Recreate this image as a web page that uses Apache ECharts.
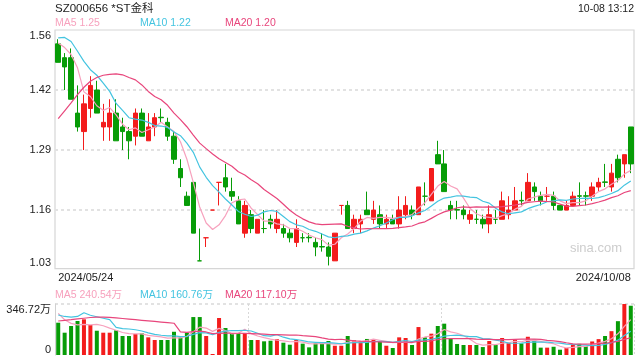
<!DOCTYPE html>
<html><head><meta charset="utf-8">
<script src="https://cdn.jsdelivr.net/npm/echarts@6/dist/echarts.min.js"></script>
<style>html,body{margin:0;padding:0;background:#fff}#c{width:640px;height:360px}</style>
</head><body><div id="c"></div><script>
const FONT = 'Arial, "Liberation Sans", "Noto Sans CJK SC", sans-serif';
const RED = '#f31c1c', GREEN = '#079c07';
const C_MA5 = '#f7a1bd', C_MA10 = '#44c4e0', C_MA20 = '#e8467c';

const dates = ['2024/05/24','2024/05/27','2024/05/28','2024/05/29','2024/05/30','2024/05/31',
'2024/06/03','2024/06/04','2024/06/05','2024/06/06','2024/06/07','2024/06/11','2024/06/12','2024/06/13','2024/06/14',
'2024/06/17','2024/06/18','2024/06/19','2024/06/20','2024/06/21','2024/06/24','2024/06/25','2024/06/26','2024/06/27','2024/06/28',
'2024/07/01','2024/07/02','2024/07/03','2024/07/04','2024/07/05','2024/07/08','2024/07/09','2024/07/10','2024/07/11','2024/07/12',
'2024/07/15','2024/07/16','2024/07/17','2024/07/18','2024/07/19','2024/07/22','2024/07/23','2024/07/24','2024/07/25','2024/07/26',
'2024/07/29','2024/07/30','2024/07/31','2024/08/01','2024/08/02','2024/08/05','2024/08/06','2024/08/07','2024/08/08','2024/08/09',
'2024/08/12','2024/08/13','2024/08/14','2024/08/15','2024/08/16','2024/08/19','2024/08/20','2024/08/21','2024/08/22','2024/08/23',
'2024/08/26','2024/08/27','2024/08/28','2024/08/29','2024/08/30','2024/09/02','2024/09/03','2024/09/04','2024/09/05','2024/09/06',
'2024/09/09','2024/09/10','2024/09/11','2024/09/12','2024/09/13','2024/09/18','2024/09/19','2024/09/20',
'2024/09/23','2024/09/24','2024/09/25','2024/09/26','2024/09/27','2024/09/30','2024/10/08'];

const open  = [1.52,1.49,1.49,1.37,1.33,1.38,1.42,1.34,1.34,1.37, 1.34,1.33,1.32,1.37,1.31,1.34,1.361,1.35,1.32,1.25,
               1.19,1.22,1.05,1.10,1.16,1.22,1.23,1.20,1.18,1.11, 1.15,1.11,1.12,1.14,1.12,1.12,1.11,1.09,1.10,1.101,
               1.09,1.081,1.08,1.05,1.17,1.17,1.12,1.13,1.16,1.14, 1.15,1.13,1.14,1.13,1.15,1.16,1.15,1.19,1.18,1.28,
               1.26,1.17,1.161,1.16,1.14,1.14,1.14,1.13,1.14,1.14, 1.15,1.16,1.181,1.18,1.21,1.19,1.19,1.19,1.17,1.16,
               1.17,1.191,1.191,1.19,1.21,1.221,1.21,1.27,1.26,1.34];
const close = [1.48,1.47,1.40,1.34,1.39,1.43,1.37,1.35,1.37,1.31, 1.33,1.31,1.37,1.32,1.34,1.36,1.36,1.32,1.27,1.23,
               1.17,1.11,1.05,1.10,1.16,1.22,1.21,1.19,1.13,1.17, 1.12,1.14,1.12,1.13,1.14,1.11,1.10,1.12,1.10,1.10,
               1.08,1.08,1.06,1.11,1.17,1.12,1.14,1.14,1.15,1.16, 1.13,1.14,1.13,1.16,1.17,1.15,1.21,1.19,1.25,1.26,
               1.20,1.16,1.16,1.15,1.15,1.14,1.13,1.15,1.14,1.18, 1.16,1.18,1.18,1.22,1.20,1.18,1.19,1.17,1.16,1.17,
               1.19,1.19,1.19,1.21,1.22,1.22,1.24,1.23,1.28,1.26];
const low   = [1.48,1.42,1.40,1.33,1.29,1.36,1.37,1.31,1.31,1.31, 1.29,1.27,1.30,1.32,1.31,1.32,1.35,1.31,1.26,1.21,
               1.17,1.11,1.05,1.08,1.16,1.17,1.20,1.18,1.13,1.10, 1.11,1.11,1.11,1.12,1.11,1.10,1.09,1.08,1.09,1.09,
               1.06,1.07,1.04,1.05,1.15,1.12,1.11,1.11,1.15,1.13, 1.12,1.12,1.13,1.12,1.14,1.14,1.15,1.17,1.18,1.26,
               1.20,1.14,1.14,1.14,1.13,1.13,1.12,1.11,1.13,1.14, 1.14,1.16,1.17,1.18,1.18,1.17,1.18,1.16,1.16,1.16,
               1.17,1.17,1.17,1.18,1.20,1.21,1.20,1.22,1.23,1.24];
const high  = [1.53,1.50,1.51,1.43,1.41,1.45,1.44,1.39,1.40,1.40, 1.36,1.34,1.38,1.38,1.37,1.37,1.38,1.36,1.33,1.27,
               1.20,1.22,1.12,1.10,1.16,1.22,1.26,1.23,1.19,1.18, 1.16,1.14,1.16,1.15,1.16,1.13,1.12,1.14,1.11,1.11,
               1.10,1.11,1.09,1.11,1.17,1.18,1.15,1.15,1.20,1.18, 1.17,1.15,1.15,1.19,1.19,1.17,1.21,1.22,1.25,1.31,
               1.29,1.18,1.18,1.17,1.16,1.16,1.15,1.17,1.16,1.20, 1.19,1.21,1.20,1.24,1.22,1.20,1.21,1.20,1.17,1.18,
               1.20,1.22,1.20,1.22,1.23,1.26,1.26,1.28,1.28,1.34];
// volume, in 万
const volume = [219.6,151.6,197,231,242.6,204,165,151.6,151.6,168, 129,129,143,147.5,120,102,102,102,158,120,
                151.6,258,258,129,7,251.5,183.6,147.5,147.5,147.5, 102,102,93,97,107,83.6,70,102,77,52,
                80,80,95,63,63,129,100,93,109,107, 93,63,47.6,120,115.6,68,190,120,145,197,
                213,109,75,68,68,68,54,95,68,115.6, 84,104,79,124,104,50,50,56,36,47,
                70,76,60,92,108,129,162,230,346.72,335];
// moving-average values before enough in-window history exists
const ma5Head  = [1.522,1.512,1.497,1.468];
const ma10Head = [1.533,1.534,1.525,1.504,1.482,1.464,1.452,1.435,1.417];
const ma20Head = [1.358,1.375,1.392,1.410,1.426,1.439,1.447,1.452,1.454,1.455,1.453,1.447,1.442,1.431,1.417,1.406,1.399,1.387,1.370];
const vma5Head  = [283,240,215,205];
const vma10Head = [272,262,258,262,287,270,260,250,240];
const vma20Head = [231,236,240,245,250,255,258,258,256,252,248,244,240,236,232,228,224,220,216];

const priceTickValues = [1.033,1.16,1.29,1.42,1.55];
const priceTickLabels = ['1.03','1.16','1.29','1.42','1.56'];
const volTickValues = [0,346.72];
const volTickLabels = ['0','346.72万'];
const titleText = 'SZ000656 *ST金科';
const timeText = '10-08 13:12';
const priceLegend = ['MA5 1.25','MA10 1.22','MA20 1.20'];
const volLegend = ['MA5 240.54万','MA10 160.76万','MA20 117.10万'];

function ma(arr, n, head){
  return arr.map((_, i) => {
    if (i < n - 1) return head[i];
    let s = 0; for (let k = i - n + 1; k <= i; k++) s += arr[k];
    return +(s / n).toFixed(4);
  });
}
const ohlc = dates.map((_, i) => [open[i], close[i], low[i], high[i]]);
const up = dates.map((_, i) => close[i] > open[i] ? true : close[i] < open[i] ? false : (i === 0 || close[i-1] <= close[i]));
const volData = volume.map((v, i) => ({value: v, itemStyle: {color: up[i] ? RED : GREEN}}));

function lab(values, labels){ return v => { const k = values.findIndex(t => Math.abs(t - v) < 1e-6); return k >= 0 ? labels[k] : ''; }; }
function line(name, data, color, xi, yi){
  return {name, type:'line', data, xAxisIndex:xi, yAxisIndex:yi, symbol:'none', smooth:false,
          lineStyle:{color, width:1.2}, itemStyle:{color}, silent:true, z:3};
}
const dotted = {color:'#e2e2e2', type:[3,3], width:2};

const chart = echarts.init(document.getElementById('c'), null, {renderer:'canvas'});
chart.setOption({
  animation:false,
  textStyle:{fontFamily:FONT},
  grid:[
    {left:55, right:6, top:30, height:238.7, show:true, borderColor:'#d6d6d6', borderWidth:1.2, backgroundColor:'transparent'},
    {left:55, right:6, top:304, height:51}
  ],
  xAxis:[
    {type:'category', gridIndex:0, data:dates, boundaryGap:true,
     axisLine:{show:false}, axisTick:{show:false}, splitLine:{show:false},
     axisLabel:{interval:(i) => i === 0 || i === dates.length - 1, alignMinLabel:'left', alignMaxLabel:'right',
                color:'#222', fontSize:11, margin:4, fontFamily:FONT}},
    {type:'category', gridIndex:1, data:dates, boundaryGap:true,
     axisLine:{show:false}, axisTick:{show:false}, axisLabel:{show:false},
     splitLine:{show:true, interval:(i) => i === 30 || i === 60, lineStyle:{color:'#d8d8d8', type:[2,2], width:1}}}
  ],
  yAxis:[
    {type:'value', gridIndex:0, min:1.033, max:1.55, scale:true,
     axisLine:{show:false}, axisTick:{show:false, customValues:[1.16,1.29,1.42]},
     splitLine:{show:true, lineStyle:dotted},
     axisLabel:{customValues:priceTickValues, formatter:lab(priceTickValues, priceTickLabels),
                verticalAlignMinLabel:'bottom', verticalAlignMaxLabel:'top',
                color:'#222', fontSize:11, margin:4, fontFamily:FONT}},
    {type:'value', gridIndex:1, min:0, max:346.72,
     axisLine:{show:true, lineStyle:{color:'#d0d0d0', width:1}}, axisTick:{show:false, customValues:[346.72]},
     splitLine:{show:true, lineStyle:dotted},
     axisLabel:{customValues:volTickValues, formatter:lab(volTickValues, volTickLabels),
                verticalAlignMinLabel:'bottom', verticalAlignMaxLabel:'top',
                color:'#222', fontSize:11, margin:4, fontFamily:FONT}}
  ],
  series:[
    {type:'candlestick', xAxisIndex:0, yAxisIndex:0, data:ohlc, barWidth:5,
     itemStyle:{color:RED, color0:GREEN, borderColor:RED, borderColor0:GREEN, borderWidth:1}, z:2},
    line('MA5', ma(close,5,ma5Head), C_MA5, 0, 0),
    line('MA10', ma(close,10,ma10Head), C_MA10, 0, 0),
    line('MA20', ma(close,20,ma20Head), C_MA20, 0, 0),
    {type:'bar', xAxisIndex:1, yAxisIndex:1, data:volData, barWidth:4, z:2},
    line('VMA5', ma(volume,5,vma5Head), C_MA5, 1, 1),
    line('VMA10', ma(volume,10,vma10Head), C_MA10, 1, 1),
    line('VMA20', ma(volume,20,vma20Head), C_MA20, 1, 1)
  ],
  graphic:[
    {type:'text', left:55, top:3, style:{text:titleText, fill:'#222', font:'11.5px ' + FONT}},
    {type:'text', right:6, top:4, style:{text:timeText, fill:'#222', font:'10.5px ' + FONT}},
    {type:'text', left:55, top:18, style:{text:priceLegend[0], fill:C_MA5, font:'10.5px ' + FONT}},
    {type:'text', left:140, top:18, style:{text:priceLegend[1], fill:C_MA10, font:'10.5px ' + FONT}},
    {type:'text', left:225, top:18, style:{text:priceLegend[2], fill:C_MA20, font:'10.5px ' + FONT}},
    {type:'text', left:55, top:290, style:{text:volLegend[0], fill:C_MA5, font:'10.5px ' + FONT}},
    {type:'text', left:140, top:290, style:{text:volLegend[1], fill:C_MA10, font:'10.5px ' + FONT}},
    {type:'text', left:225, top:290, style:{text:volLegend[2], fill:C_MA20, font:'10.5px ' + FONT}},
    {type:'text', right:18, top:242, style:{text:'sina.com', fill:'#cdcdcd', font:'13px ' + FONT}}
  ]
});
</script></body></html>
